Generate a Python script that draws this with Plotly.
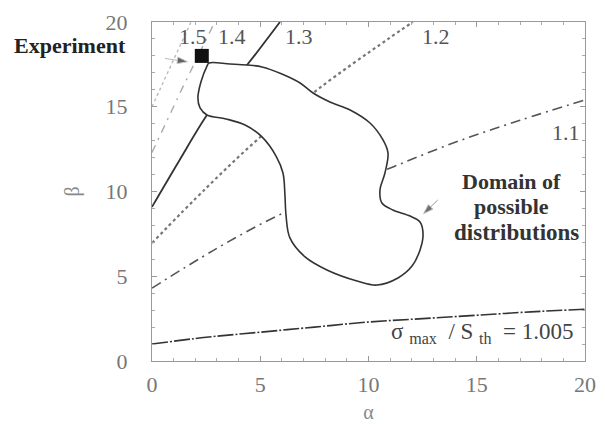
import plotly.graph_objects as go

# contour sigma_max/S_th = 1.005
c1005_x = [0, 2.5, 5, 7.5, 10, 12.5, 15, 17.5, 20]
c1005_y = [1.0, 1.4, 1.7, 2.0, 2.3, 2.5, 2.7, 2.9, 3.05]
# 1.1
c11_x = [0, 2.8, 5.59, 8.4, 11.13, 14, 17, 20]
c11_y = [4.3, 6.5, 8.44, 10.0, 11.45, 12.9, 14.2, 15.4]
# 1.2
c12_x = [0, 2.5, 4.99, 7.62, 10.85, 12.05]
c12_y = [6.96, 10.2, 13.2, 15.99, 18.95, 20.0]
# 1.3
c13_x = [0, 1.25, 2.54, 3.5, 4.39, 5.91]
c13_y = [9.09, 11.8, 14.51, 16.1, 17.46, 20.0]
# 1.4
c14_x = [0, 1.4, 2.9]
c14_y = [12.3, 16.1, 20.0]
# 1.5
c15_x = [0, 1.8]
c15_y = [15.0, 20.0]

# domain of possible distributions (closed)
dom_x = [2.63, 3.60, 4.39, 5.08, 6.00, 6.84, 7.44, 8.22, 9.15, 10.07, 10.67, 10.90,
         10.76, 10.53, 10.62, 11.13, 11.92, 12.38, 12.52, 12.38, 12.01, 11.36, 10.39,
         9.47, 8.08, 7.07, 6.37, 6.19, 6.14, 6.05, 5.73, 5.08, 4.30, 3.42, 2.54, 2.22,
         2.12, 2.26, 2.54, 2.63]
dom_y = [17.58, 17.52, 17.46, 17.35, 16.93, 16.40, 15.81, 15.28, 14.81, 14.04, 13.04, 12.27,
         11.09, 10.09, 9.32, 8.91, 8.55, 8.20, 7.43, 6.55, 5.60, 4.90, 4.48,
         4.72, 5.37, 6.14, 7.26, 8.61, 9.79, 11.09, 12.09, 13.22, 13.92, 14.28, 14.51, 14.93,
         15.52, 16.46, 17.40, 17.58]

exp_x = [2.3]
exp_y = [18.0]

# pointer arrows (tail -> head)
exp_arrow_x = [0.6, 1.65]
exp_arrow_y = [17.85, 17.65]
dom_arrow_x = [13.2, 12.55]
dom_arrow_y = [9.5, 8.7]

contour_labels = ["1.5", "1.4", "1.3", "1.2", "1.1"]
label_x = [1.9, 3.7, 6.8, 13.1, 19.1]
label_y = [19.15, 19.15, 19.15, 19.15, 13.5]

domain_lines = ["<b>Domain of</b>", "<b>possible</b>", "<b>distributions</b>"]
domain_x = [16.6, 16.6, 16.85]
domain_y = [10.58, 9.09, 7.6]

ticks = [0, 5, 10, 15, 20]

dark = "#333333"
fig = go.Figure()
fig.add_trace(go.Scatter(x=c1005_x, y=c1005_y, mode="lines", line=dict(color=dark, width=1.6, shape="spline", dash="16px,2px,2px,2px")))
fig.add_trace(go.Scatter(x=c11_x, y=c11_y, mode="lines", line=dict(color="#555", width=1.6, shape="spline", dash="10px,5px,2px,5px")))
fig.add_trace(go.Scatter(x=c12_x, y=c12_y, mode="lines", line=dict(color="#777", width=2.2, shape="spline", dash="dot")))
fig.add_trace(go.Scatter(x=c13_x, y=c13_y, mode="lines", line=dict(color=dark, width=1.8, shape="spline")))
fig.add_trace(go.Scatter(x=c14_x, y=c14_y, mode="lines", line=dict(color="#aaa", width=1.4, dash="8px,6px,2px,6px")))
fig.add_trace(go.Scatter(x=c15_x, y=c15_y, mode="lines", line=dict(color="#bbb", width=1.4, dash="dot")))
fig.add_trace(go.Scatter(x=dom_x, y=dom_y, mode="lines", fill="toself", fillcolor="white",
                         line=dict(color=dark, width=1.6, shape="spline", smoothing=1.0)))
fig.add_trace(go.Scatter(x=exp_x, y=exp_y, mode="markers",
                         marker=dict(symbol="square", size=14, color="#111")))
fig.add_trace(go.Scatter(x=exp_arrow_x, y=exp_arrow_y, mode="lines+markers",
                         line=dict(color="#bbb", width=1),
                         marker=dict(symbol="arrow", angleref="previous", size=[0, 11], color="#222")))
fig.add_trace(go.Scatter(x=dom_arrow_x, y=dom_arrow_y, mode="lines+markers",
                         line=dict(color="#999", width=1),
                         marker=dict(symbol="arrow", angleref="previous", size=[0, 10], color="#333")))

serif = "Liberation Serif"
for t, lx, ly in zip(contour_labels, label_x, label_y):
    fig.add_annotation(x=lx, y=ly, text=t, showarrow=False,
                       font=dict(family=serif, size=22, color="#555"))

fig.add_annotation(x=-0.055, y=0.932, xref="paper", yref="paper",
                   xanchor="right", yanchor="middle",
                   text="<b>Experiment</b>", showarrow=False,
                   font=dict(family=serif, size=22, color="#222"))

for t, lx, ly, fs in zip(domain_lines, domain_x, domain_y, [22, 22, 23]):
    fig.add_annotation(x=lx, y=ly, text=t, showarrow=False,
                       font=dict(family=serif, size=fs, color="#333"))

fig.add_annotation(x=19.6, y=1.65, xanchor="right",
                   text="σ&nbsp;<sub>max</sub>&nbsp;&nbsp;/ S&nbsp;<sub>th</sub>&nbsp;&nbsp;= 1.005", showarrow=False,
                   font=dict(family=serif, size=23, color="#444"))

axis_common = dict(range=[0, 20], tickvals=ticks, ticks="inside", ticklen=5,
                   tickcolor="#999", showline=True, linecolor="#999", linewidth=1,
                   mirror="ticks", showgrid=False, zeroline=False, automargin=False,
                   minor=dict(ticks="inside", dtick=1, ticklen=3, tickcolor="#aaa"),
                   tickfont=dict(family=serif, size=22, color="#777"))

fig.update_layout(
    width=605, height=430,
    margin=dict(l=152, r=20, t=22, b=69),
    plot_bgcolor="white", paper_bgcolor="white",
    showlegend=False,
    xaxis=dict(**axis_common, ticklabelstandoff=4,
               title=dict(text="α", font=dict(family=serif, size=20, color="#888"), standoff=8)),
    yaxis=dict(**axis_common, ticklabelstandoff=19,
               title=dict(text="β", font=dict(family=serif, size=20, color="#888"), standoff=20)),
)

fig.write_html("out.html", config={"displayModeBar": False},
               post_script="document.body.style.margin='0';document.body.style.overflow='hidden';")
